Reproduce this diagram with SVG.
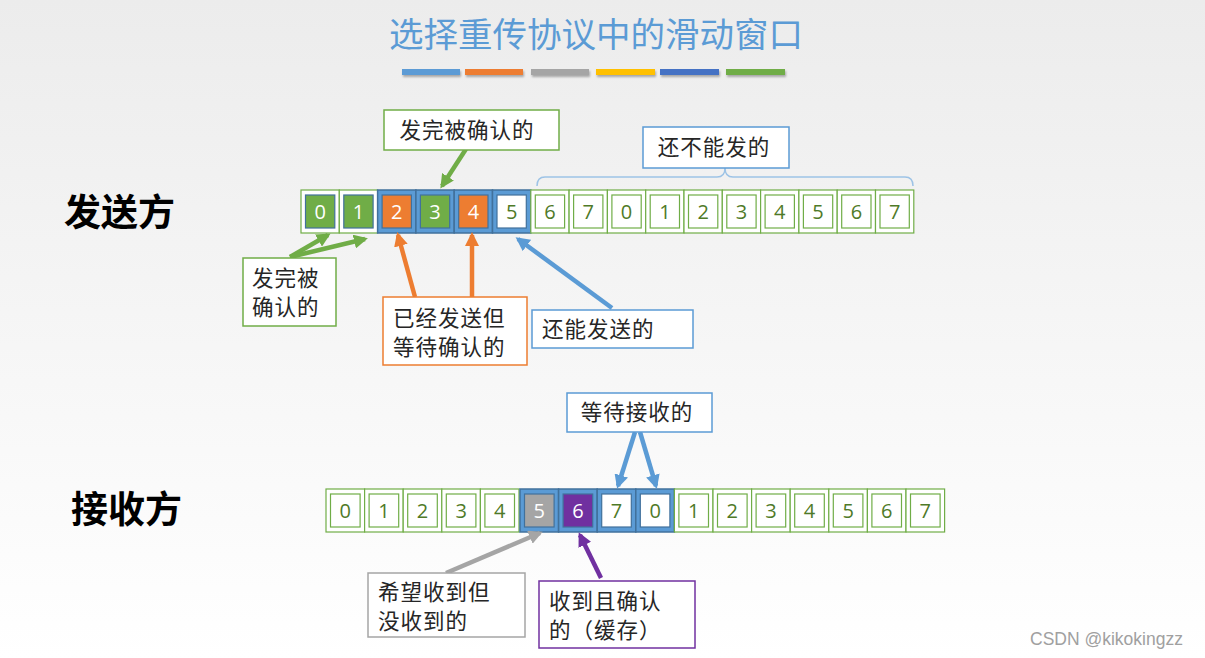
<svg xmlns="http://www.w3.org/2000/svg" width="1205" height="658" viewBox="0 0 1205 658">
<defs>
<linearGradient id="bg" x1="0" y1="0" x2="0" y2="1">
<stop offset="0" stop-color="#ececec"/><stop offset="1" stop-color="#ffffff"/>
</linearGradient>
<filter id="sh" x="-10%" y="-50%" width="120%" height="250%"><feDropShadow dx="1" dy="2" stdDeviation="1.2" flood-color="#000" flood-opacity="0.3"/></filter>
<marker id="ag" viewBox="0 0 14 14" refX="11" refY="7" markerWidth="14" markerHeight="14" markerUnits="userSpaceOnUse" orient="auto"><path d="M0,0 L14,7 L0,14 z" fill="#70ad47"/></marker>
<marker id="ao" viewBox="0 0 14 14" refX="11" refY="7" markerWidth="14" markerHeight="14" markerUnits="userSpaceOnUse" orient="auto"><path d="M0,0 L14,7 L0,14 z" fill="#ed7d31"/></marker>
<marker id="ab" viewBox="0 0 14 14" refX="11" refY="7" markerWidth="14" markerHeight="14" markerUnits="userSpaceOnUse" orient="auto"><path d="M0,0 L14,7 L0,14 z" fill="#5b9bd5"/></marker>
<marker id="ay" viewBox="0 0 14 14" refX="11" refY="7" markerWidth="14" markerHeight="14" markerUnits="userSpaceOnUse" orient="auto"><path d="M0,0 L14,7 L0,14 z" fill="#a5a5a5"/></marker>
<marker id="ap" viewBox="0 0 14 14" refX="11" refY="7" markerWidth="14" markerHeight="14" markerUnits="userSpaceOnUse" orient="auto"><path d="M0,0 L14,7 L0,14 z" fill="#7030a0"/></marker>
</defs>
<style>
.zh{font-family:"Noto Sans CJK SC","Noto Sans",sans-serif;}
.lbl{font-family:"Noto Sans CJK SC","Noto Sans",sans-serif;font-size:21.5px;letter-spacing:1px;fill:#262626;}
.side{font-family:"Noto Sans CJK SC",sans-serif;font-size:37px;font-weight:bold;fill:#000;}
.o{fill:#ffffff;stroke:#70ad47;stroke-width:1.2;}
.i{fill:#ffffff;stroke:#70ad47;stroke-width:1.2;}
.w{fill:#5b9bd5;stroke:#41719c;stroke-width:1.5;}
.iw{stroke:#41719c;stroke-width:1.2;}
.d{font-family:"Open Sans","Noto Sans",sans-serif;font-size:20px;text-anchor:middle;fill:#4f7a28;}
.dw{font-family:"Open Sans","Noto Sans",sans-serif;font-size:20px;text-anchor:middle;fill:#ffffff;}
.bx{fill:#ffffff;stroke-width:1.5;}
.ar{stroke-width:4.5;fill:none;}
</style>
<rect width="1205" height="658" fill="url(#bg)"/>

<g id="title">
<text x="596" y="47" class="zh" font-size="34.5" fill="#5b9bd5" text-anchor="middle">选择重传协议中的滑动窗口</text>
<g filter="url(#sh)">
<rect x="402" y="69" width="58" height="6" fill="#5b9bd5"/>
<rect x="465" y="69" width="58" height="6" fill="#ed7d31"/>
<rect x="531" y="69" width="58" height="6" fill="#a5a5a5"/>
<rect x="596" y="69" width="59" height="6" fill="#ffc000"/>
<rect x="660" y="69" width="59" height="6" fill="#4472c4"/>
<rect x="726" y="69" width="59" height="6" fill="#70ad47"/>
</g>
</g>

<text class="side" x="64" y="226">发送方</text>
<text class="side" x="71" y="523">接收方</text>

<g id="sender">
<g transform="translate(301,190)"><rect class="o" width="38.3" height="43"/><rect class="iw" x="4.5" y="5" width="29.3" height="33" fill="#70ad47"/><text class="dw" x="19.2" y="29">0</text></g>
<g transform="translate(339.3,190)"><rect class="o" width="38.3" height="43"/><rect class="iw" x="4.5" y="5" width="29.3" height="33" fill="#70ad47"/><text class="dw" x="19.2" y="29">1</text></g>
<g transform="translate(377.6,190)"><rect class="w" width="38.3" height="43"/><rect class="iw" x="4.5" y="5" width="29.3" height="33" fill="#ed7d31"/><text class="dw" x="19.2" y="29">2</text></g>
<g transform="translate(415.9,190)"><rect class="w" width="38.3" height="43"/><rect class="iw" x="4.5" y="5" width="29.3" height="33" fill="#70ad47"/><text class="dw" x="19.2" y="29">3</text></g>
<g transform="translate(454.2,190)"><rect class="w" width="38.3" height="43"/><rect class="iw" x="4.5" y="5" width="29.3" height="33" fill="#ed7d31"/><text class="dw" x="19.2" y="29">4</text></g>
<g transform="translate(492.5,190)"><rect class="w" width="38.3" height="43"/><rect class="iw" x="4.5" y="5" width="29.3" height="33" fill="#ffffff"/><text class="d" x="19.2" y="29" fill="#3a5a20">5</text></g>
<g transform="translate(530.8,190)"><rect class="o" width="38.3" height="43"/><rect class="i" x="4.5" y="5" width="29.3" height="33"/><text class="d" x="19.2" y="29">6</text></g>
<g transform="translate(569.1,190)"><rect class="o" width="38.3" height="43"/><rect class="i" x="4.5" y="5" width="29.3" height="33"/><text class="d" x="19.2" y="29">7</text></g>
<g transform="translate(607.4,190)"><rect class="o" width="38.3" height="43"/><rect class="i" x="4.5" y="5" width="29.3" height="33"/><text class="d" x="19.2" y="29">0</text></g>
<g transform="translate(645.7,190)"><rect class="o" width="38.3" height="43"/><rect class="i" x="4.5" y="5" width="29.3" height="33"/><text class="d" x="19.2" y="29">1</text></g>
<g transform="translate(684,190)"><rect class="o" width="38.3" height="43"/><rect class="i" x="4.5" y="5" width="29.3" height="33"/><text class="d" x="19.2" y="29">2</text></g>
<g transform="translate(722.3,190)"><rect class="o" width="38.3" height="43"/><rect class="i" x="4.5" y="5" width="29.3" height="33"/><text class="d" x="19.2" y="29">3</text></g>
<g transform="translate(760.6,190)"><rect class="o" width="38.3" height="43"/><rect class="i" x="4.5" y="5" width="29.3" height="33"/><text class="d" x="19.2" y="29">4</text></g>
<g transform="translate(798.9,190)"><rect class="o" width="38.3" height="43"/><rect class="i" x="4.5" y="5" width="29.3" height="33"/><text class="d" x="19.2" y="29">5</text></g>
<g transform="translate(837.2,190)"><rect class="o" width="38.3" height="43"/><rect class="i" x="4.5" y="5" width="29.3" height="33"/><text class="d" x="19.2" y="29">6</text></g>
<g transform="translate(875.5,190)"><rect class="o" width="38.3" height="43"/><rect class="i" x="4.5" y="5" width="29.3" height="33"/><text class="d" x="19.2" y="29">7</text></g>
</g>

<g id="receiver">
<g transform="translate(326,489)"><rect class="o" width="38.6" height="43"/><rect class="i" x="4.5" y="5" width="29.6" height="33"/><text class="d" x="19.3" y="29">0</text></g>
<g transform="translate(364.6,489)"><rect class="o" width="38.6" height="43"/><rect class="i" x="4.5" y="5" width="29.6" height="33"/><text class="d" x="19.3" y="29">1</text></g>
<g transform="translate(403.2,489)"><rect class="o" width="38.6" height="43"/><rect class="i" x="4.5" y="5" width="29.6" height="33"/><text class="d" x="19.3" y="29">2</text></g>
<g transform="translate(441.8,489)"><rect class="o" width="38.6" height="43"/><rect class="i" x="4.5" y="5" width="29.6" height="33"/><text class="d" x="19.3" y="29">3</text></g>
<g transform="translate(480.4,489)"><rect class="o" width="38.6" height="43"/><rect class="i" x="4.5" y="5" width="29.6" height="33"/><text class="d" x="19.3" y="29">4</text></g>
<g transform="translate(520,489)"><rect class="w" width="38.6" height="43"/><rect class="iw" x="4.5" y="5" width="29.6" height="33" fill="#a5a5a5"/><text class="dw" x="19.3" y="29">5</text></g>
<g transform="translate(558.6,489)"><rect class="w" width="38.6" height="43"/><rect class="iw" x="4.5" y="5" width="29.6" height="33" fill="#7030a0"/><text class="dw" x="19.3" y="29">6</text></g>
<g transform="translate(597.2,489)"><rect class="w" width="38.6" height="43"/><rect class="iw" x="4.5" y="5" width="29.6" height="33" fill="#ffffff"/><text class="d" x="19.3" y="29">7</text></g>
<g transform="translate(635.8,489)"><rect class="w" width="38.6" height="43"/><rect class="iw" x="4.5" y="5" width="29.6" height="33" fill="#ffffff"/><text class="d" x="19.3" y="29">0</text></g>
<g transform="translate(674.4,489)"><rect class="o" width="38.6" height="43"/><rect class="i" x="4.5" y="5" width="29.6" height="33"/><text class="d" x="19.3" y="29">1</text></g>
<g transform="translate(713,489)"><rect class="o" width="38.6" height="43"/><rect class="i" x="4.5" y="5" width="29.6" height="33"/><text class="d" x="19.3" y="29">2</text></g>
<g transform="translate(751.6,489)"><rect class="o" width="38.6" height="43"/><rect class="i" x="4.5" y="5" width="29.6" height="33"/><text class="d" x="19.3" y="29">3</text></g>
<g transform="translate(790.2,489)"><rect class="o" width="38.6" height="43"/><rect class="i" x="4.5" y="5" width="29.6" height="33"/><text class="d" x="19.3" y="29">4</text></g>
<g transform="translate(828.8,489)"><rect class="o" width="38.6" height="43"/><rect class="i" x="4.5" y="5" width="29.6" height="33"/><text class="d" x="19.3" y="29">5</text></g>
<g transform="translate(867.4,489)"><rect class="o" width="38.6" height="43"/><rect class="i" x="4.5" y="5" width="29.6" height="33"/><text class="d" x="19.3" y="29">6</text></g>
<g transform="translate(906,489)"><rect class="o" width="38.6" height="43"/><rect class="i" x="4.5" y="5" width="29.6" height="33"/><text class="d" x="19.3" y="29">7</text></g>
</g>

<g id="connectors">
<path d="M537,186 Q537,177 545,177 L717,177 Q725,177 725,168 Q725,177 733,177 L905,177 Q913,177 913,186" fill="none" stroke="#9dc3e6" stroke-width="1.5"/>
<line class="ar" x1="466" y1="149" x2="442" y2="186" stroke="#70ad47" marker-end="url(#ag)"/>
<line class="ar" x1="290" y1="257" x2="328" y2="235" stroke="#70ad47" marker-end="url(#ag)"/>
<line class="ar" x1="290" y1="257" x2="365" y2="239" stroke="#70ad47" marker-end="url(#ag)"/>
<line class="ar" x1="415" y1="297" x2="398" y2="235" stroke="#ed7d31" marker-end="url(#ao)"/>
<line class="ar" x1="472" y1="297" x2="472" y2="235" stroke="#ed7d31" marker-end="url(#ao)"/>
<line class="ar" x1="612" y1="308" x2="518" y2="239" stroke="#5b9bd5" marker-end="url(#ab)"/>
<line class="ar" x1="635" y1="432" x2="618" y2="486" stroke="#5b9bd5" marker-end="url(#ab)"/>
<line class="ar" x1="640" y1="432" x2="656" y2="486" stroke="#5b9bd5" marker-end="url(#ab)"/>
<line class="ar" x1="446" y1="573" x2="540" y2="533" stroke="#a5a5a5" marker-end="url(#ay)"/>
<line class="ar" x1="601" y1="578" x2="580" y2="535" stroke="#7030a0" marker-end="url(#ap)"/>
</g>

<g id="lbl-acked-top"><rect class="bx" x="384" y="110" width="175" height="40" stroke="#70ad47"/><text class="lbl" x="467" y="138" text-anchor="middle">发完被确认的</text></g>
<g id="lbl-notyet"><rect class="bx" x="643" y="127" width="146" height="41" stroke="#5b9bd5"/><text class="lbl" x="714" y="155" text-anchor="middle">还不能发的</text></g>
<g id="lbl-acked-left"><rect class="bx" x="243" y="258" width="93" height="68" stroke="#70ad47"/><text class="lbl" x="252" y="286">发完被</text><text class="lbl" x="252" y="314.5">确认的</text></g>
<g id="lbl-sent"><rect class="bx" x="383" y="297" width="144" height="68" stroke="#ed7d31"/><text class="lbl" x="393" y="326">已经发送但</text><text class="lbl" x="393" y="354.5">等待确认的</text></g>
<g id="lbl-cansend"><rect class="bx" x="532" y="310" width="161" height="38" stroke="#5b9bd5"/><text class="lbl" x="542" y="337">还能发送的</text></g>
<g id="lbl-waiting"><rect class="bx" x="567" y="393" width="145" height="39" stroke="#5b9bd5"/><text class="lbl" x="637" y="420" text-anchor="middle">等待接收的</text></g>
<g id="lbl-expected"><rect class="bx" x="368" y="573" width="157" height="64" stroke="#a5a5a5"/><text class="lbl" x="378" y="600">希望收到但</text><text class="lbl" x="378" y="628.5">没收到的</text></g>
<g id="lbl-buffered"><rect class="bx" x="539" y="581" width="156" height="67" stroke="#7030a0"/><text class="lbl" x="549" y="609">收到且确认</text><text class="lbl" x="549" y="637.5">的（缓存）</text></g>

<text x="1030" y="645" font-family="Liberation Sans, sans-serif" font-size="17.5" fill="#a0a0a0">CSDN @kikokingzz</text>
</svg>
